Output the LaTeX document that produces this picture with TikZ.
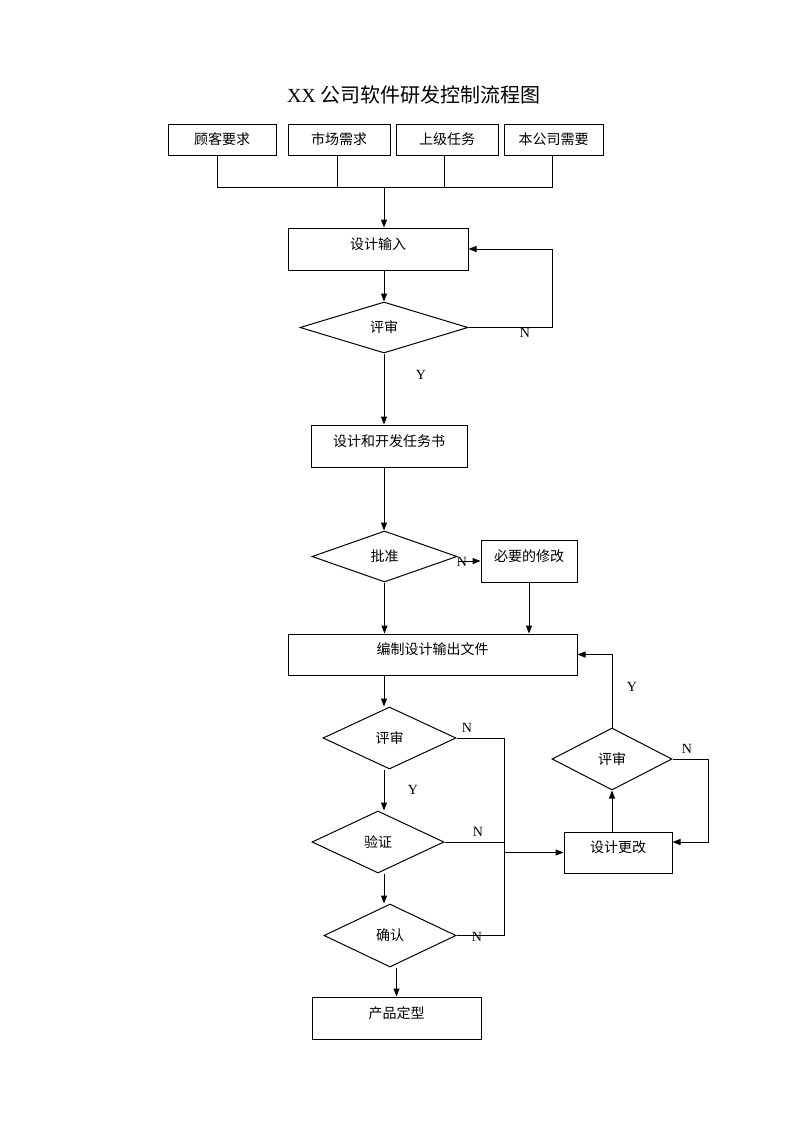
\documentclass[tikz,border=0pt]{standalone}
\usepackage{fontspec}
\setmainfont{Liberation Serif}
\newfontfamily\cjk{Noto Sans CJK SC}
\usetikzlibrary{shapes.geometric,arrows.meta,calc}
\begin{document}
\begin{tikzpicture}[x=0.75pt,y=-0.75pt,
  line width=0.75pt,
  cjkfont/.style={font=\cjk\fontsize{10.5}{12}\selectfont},
  box/.style 2 args={draw, rectangle, inner sep=0pt, minimum width=#1*0.75pt, minimum height=#2*0.75pt, cjkfont},
  upbox/.style 2 args={box={#1}{#2}, text height=8pt, text depth=8pt},
  dia/.style 2 args={draw, diamond, inner sep=0pt, aspect=2, minimum width=#1*0.75pt, minimum height=#2*0.75pt, cjkfont},
  arr/.style={-{Triangle[length=6pt,width=4.5pt]}},
  lbl/.style={font=\fontsize{10.5}{12}\selectfont, inner sep=0pt}
]
\path[use as bounding box] (0,0) rectangle (793,1122);

\node (title) at (414,95) {\fontsize{15}{18}\selectfont XX\ {\cjk 公司软件研发控制流程图}};

% top boxes
\node[box={108}{31}] (b1) at (222,139.5) {顾客要求};
\node[box={102}{31}] (b2) at (339,139.5) {市场需求};
\node[box={102}{31}] (b3) at (447,139.5) {上级任务};
\node[box={99}{31}] (b4) at (553.5,139.5) {本公司需要};
\coordinate (j) at (384,187);
\coordinate (col) at (384,0);
\coordinate (vx) at (504,0);
\coordinate (t1) at ($(b1.south)+(-5,0)$);
\coordinate (t2) at ($(b2.south)+(-2,0)$);
\coordinate (t3) at ($(b3.south)+(-3,0)$);
\coordinate (t4) at ($(b4.south)+(-1.5,0)$);

\node[upbox={180}{42}] (in) at (378,249) {设计输入};
\node[dia={168}{51}] (r1) at (384,327.5) {评审};
\node[upbox={156}{42}] (task) at (389,446) {设计和开发任务书};
\node[dia={145}{51}] (ap) at (384.5,556.5) {批准};
\node[upbox={96}{42}] (mod) at (529,561) {必要的修改};
\node[upbox={289}{41}] (out) at (432.5,654.5) {编制设计输出文件};
\node[dia={133}{62}] (r2) at (389.5,738) {评审};
\node[dia={132}{62}] (ver) at (378,842) {验证};
\node[dia={132}{63}] (conf) at (390,935.5) {确认};
\node[upbox={169}{42}] (prod) at (396.5,1018) {产品定型};
\node[upbox={108}{41}] (chg) at (618,852.5) {设计更改};
\node[dia={120}{62}] (r3) at (612,759) {评审};

% labels
\node[lbl] (n1) at (525,333) {N};
\node[lbl] (y1) at (421,375) {Y};
\node[lbl] (n2) at (462,562) {N};
\node[lbl] (y2) at (632,687) {Y};
\node[lbl] (n3) at (467,728) {N};
\node[lbl] (y3) at (413,790) {Y};
\node[lbl] (n4) at (478,832) {N};
\node[lbl] (n5) at (477,937) {N};
\node[lbl] (n6) at (687,749) {N};

% connectors
\draw (t1) -- (t1 |- j) -- (t4 |- j) -- (t4);
\draw (t2) -- (t2 |- j);
\draw (t3) -- (t3 |- j);
\draw[arr] (j) -- (j |- in.north);
\draw[arr] (in.south -| col) -- (r1.north);
\draw[arr] (r1.east) -- ++(84,0) |- (in.east);
\draw[arr] (r1.south) -- (r1.south |- task.north);
\draw[arr] (task.south -| col) -- (ap.north -| col);
\draw[arr] (mod.west -| ap.east) -- (mod.west);
\draw[arr] (ap.south) -- (ap.south |- out.north);
\draw[arr] (mod.south) -- (mod.south |- out.north);
\draw[arr] (r3.north) |- (out.east);
\draw[arr] (out.south -| col) -- (r2.north -| col);
\draw[arr] (r2.south -| col) -- (ver.north -| col);
\draw[arr] (ver.south -| col) -- (conf.north -| col);
\draw[arr] (conf.south -| prod.north) -- (prod.north);
\draw (r2.east) -- (r2.east -| vx) -- (conf.east -| vx) -- (conf.east);
\draw (ver.east) -- (ver.east -| vx);
\draw[arr] (chg.west -| vx) -- (chg.west);
\draw[arr] (chg.north -| r3.south) -- (r3.south);
\draw[arr] (r3.east) -- ++(36,0) |- ($(chg.east)+(0,-10.5)$);
\end{tikzpicture}
\end{document}
